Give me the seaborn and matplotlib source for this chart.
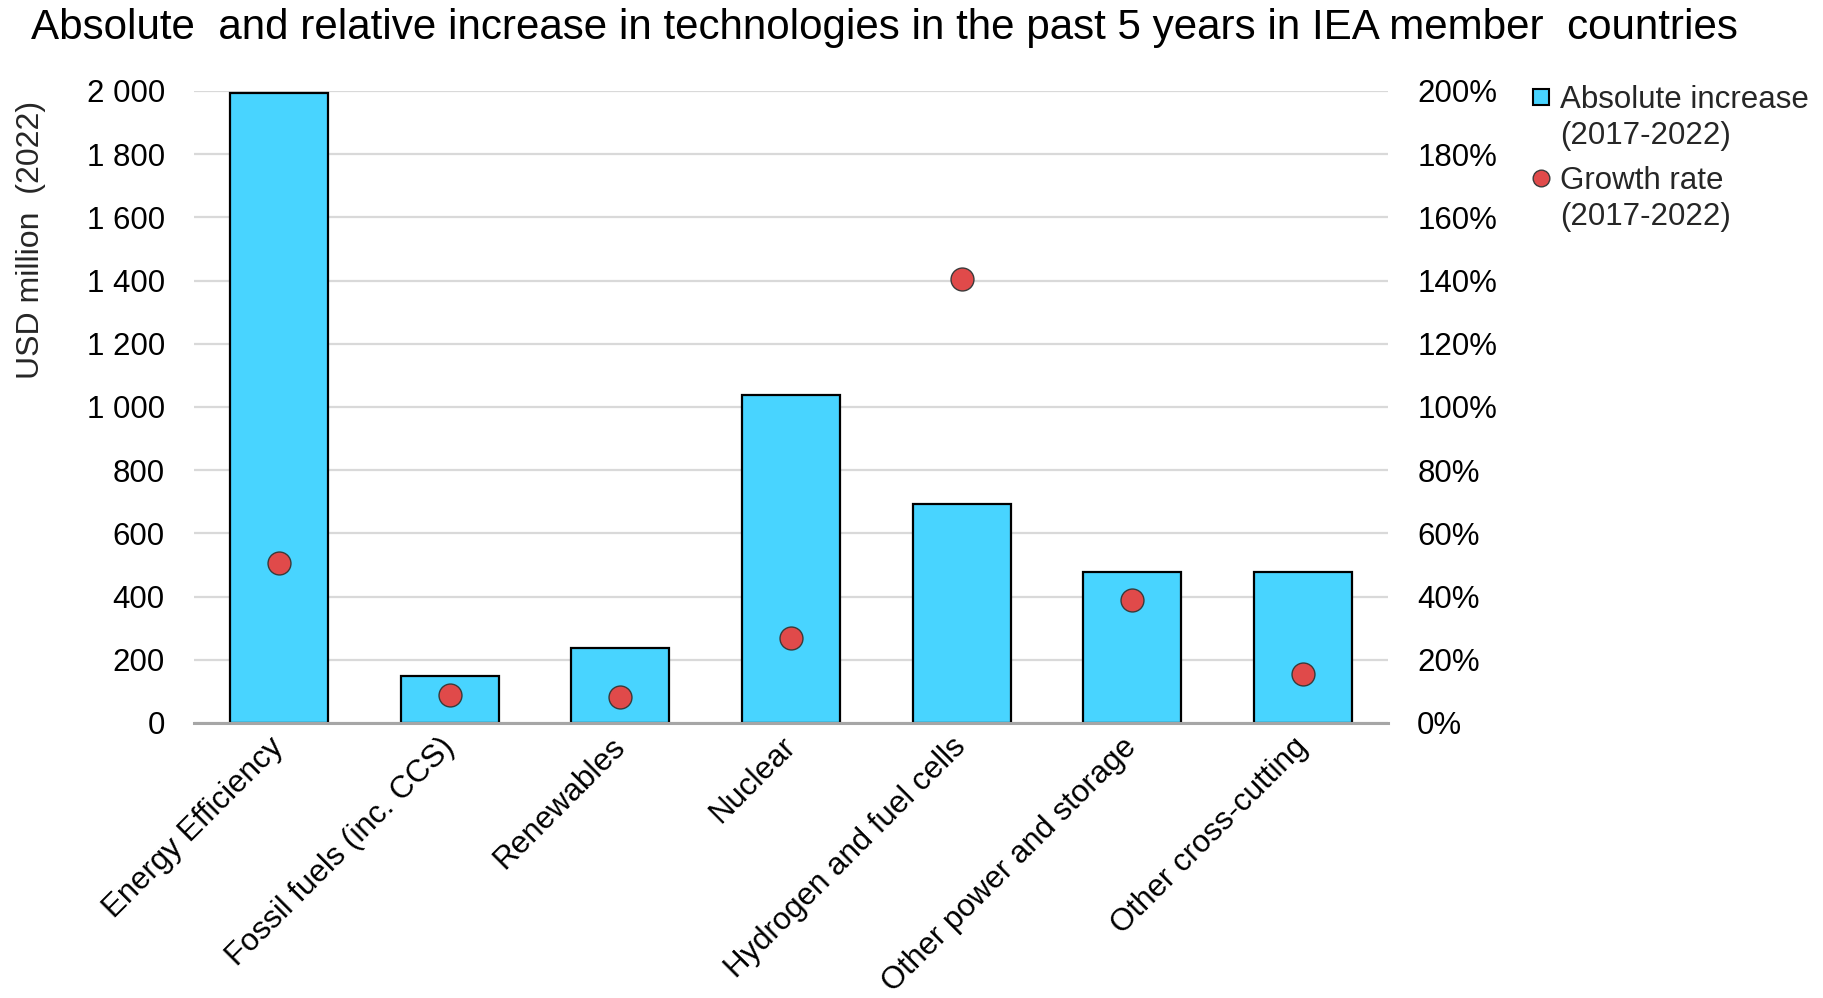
import numpy as np
import pandas as pd
import matplotlib
matplotlib.use("Agg")
import matplotlib.pyplot as plt
import matplotlib.ticker as mticker
from matplotlib.lines import Line2D
import seaborn as sns

categories = ["Energy Efficiency", "Fossil fuels (inc. CCS)", "Renewables", "Nuclear",
              "Hydrogen and fuel cells", "Other power and storage", "Other cross-cutting"]
absolute_increase = [1995, 150, 236, 1039, 693, 479, 479]
growth_rate = [50.7, 8.8, 8.1, 26.9, 140.5, 38.8, 15.4]
left_ticks = [0, 200, 400, 600, 800, 1000, 1200, 1400, 1600, 1800, 2000]
right_ticks = [0, 20, 40, 60, 80, 100, 120, 140, 160, 180, 200]

title = "Absolute  and relative increase in technologies in the past 5 years in IEA member  countries"
ylabel = "USD million  (2022)"
legend_row1 = ["Absolute increase", "(2017-2022)"]
legend_row2 = ["Growth rate", "(2017-2022)"]

BAR = "#48D4FF"
DOT = "#E04A4A"
GRID = "#D9D9D9"
FS = 22.5

sns.set_theme(style="white")
plt.rcParams["font.family"] = ["Liberation Sans", "DejaVu Sans"]

df = pd.DataFrame({"category": categories, "abs": absolute_increase, "growth": growth_rate})

fig = plt.figure(figsize=(18.24, 9.98), dpi=100)
ax = fig.add_axes([194 / 1824, 1 - 723 / 998, (1388 - 194) / 1824, (723 - 91) / 998])

sns.barplot(data=df, x="category", y="abs", color=BAR, edgecolor="black", linewidth=1.6,
            width=0.575, saturation=1, ax=ax, zorder=3)
ax.set_xlim(-0.5, len(categories) - 0.5)
ax.set_ylim(0, 2000)
ax.set_yticks(left_ticks)
ax.yaxis.set_major_formatter(mticker.FuncFormatter(lambda v, p: f"{v:,.0f}".replace(",", " ")))
ax.grid(axis="y", color=GRID, linewidth=1.6, zorder=0)
ax.grid(axis="x", visible=False)
ax.set_axisbelow(True)
for s in ["top", "right", "left"]:
    ax.spines[s].set_visible(False)
ax.spines["bottom"].set_color("#A6A6A6")
ax.spines["bottom"].set_linewidth(2.2)
ax.spines["bottom"].set_zorder(4)
ax.tick_params(axis="y", length=0, pad=21, labelsize=FS, labelcolor="black")
ax.tick_params(axis="x", length=0, pad=14, labelsize=FS, labelcolor="black")
ax.set_xlabel("")
ax.set_ylabel("")
for lab in ax.get_xticklabels():
    lab.set_rotation(45)
    lab.set_ha("right")
    lab.set_va("center")
    lab.set_rotation_mode("anchor")

ax2 = ax.twinx()
sns.stripplot(data=df, x="category", y="growth", jitter=False, color=DOT, size=16.5,
              edgecolor="#3A3A3A", linewidth=1.0, ax=ax2, zorder=5)
ax2.set_xlim(-0.5, len(categories) - 0.5)
ax2.set_ylim(0, 200)
ax2.set_yticks(right_ticks)
ax2.yaxis.set_major_formatter(mticker.FuncFormatter(lambda v, p: f"{v:.0f}%"))
ax2.tick_params(axis="y", length=0, pad=21, labelsize=FS, labelcolor="black")
ax2.set_ylabel("")
ax2.set_xlabel("")
for s in ax2.spines.values():
    s.set_visible(False)
ax2.grid(False)
for c in ax2.collections:
    c.set_clip_on(False)

fig.text(31 / 1824, 1 - 39 / 998, title, fontsize=30.3, ha="left", va="baseline", color="black")
fig.text(31 / 1824, 1 - 240 / 998, ylabel, fontsize=23, rotation=90, ha="center", va="center")

blank = Line2D([], [], linestyle="none", marker=None)
sq = Line2D([], [], linestyle="none", marker="s", markersize=12, markerfacecolor=BAR,
            markeredgecolor="black", markeredgewidth=1.5)
dot = Line2D([], [], linestyle="none", marker="o", markersize=12, markerfacecolor=DOT,
             markeredgecolor="#3A3A3A", markeredgewidth=1.0)
common = dict(loc="upper left", frameon=False, fontsize=FS, borderpad=0, borderaxespad=0,
              handlelength=0.7, handletextpad=0.25, labelspacing=0.18)
fig.legend([sq, blank], legend_row1, bbox_to_anchor=(1530 / 1824, 1 - 85 / 998), **common)
fig.legend([dot, blank], legend_row2, bbox_to_anchor=(1530 / 1824, 1 - 166 / 998), **common)

fig.savefig("out.png", dpi=100)
